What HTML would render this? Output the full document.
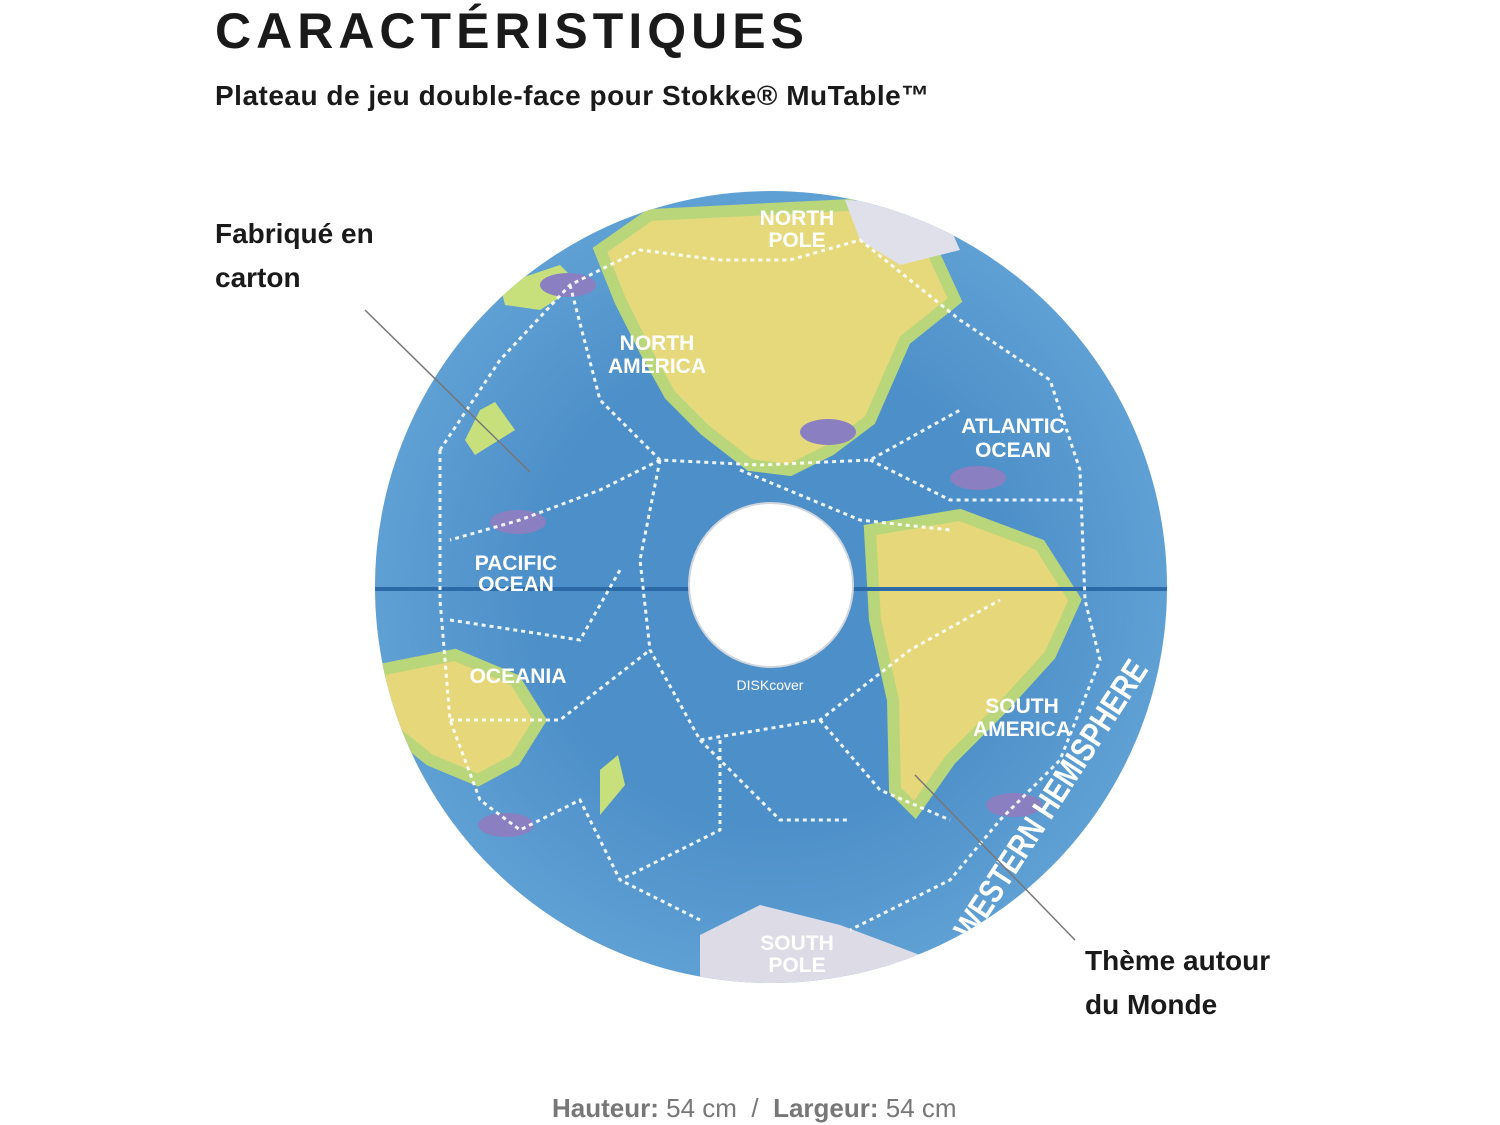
<!DOCTYPE html>
<html><head><meta charset="utf-8"><style>
html,body{margin:0;padding:0;background:#fff;}
body{width:1500px;height:1125px;position:relative;overflow:hidden;font-family:"Liberation Sans",sans-serif;color:#1a1a1a;}
.t{position:absolute;white-space:nowrap;}
</style></head><body>
<div class="t" style="left:215px;top:2px;font-size:50px;font-weight:bold;letter-spacing:5px;">CARACTÉRISTIQUES</div>
<div class="t" style="left:215px;top:80px;font-size:28px;font-weight:bold;letter-spacing:0.5px;">Plateau de jeu double-face pour Stokke® MuTable™</div>
<div class="t" style="left:215px;top:212px;font-size:28px;font-weight:bold;line-height:44px;">Fabriqué en<br>carton</div>
<div class="t" style="left:1085px;top:939px;font-size:28px;font-weight:bold;line-height:44px;">Thème autour<br>du Monde</div>
<div class="t" style="left:552px;top:1093px;font-size:26px;color:#777;"><b>Hauteur:</b> 54 cm &nbsp;/&nbsp; <b>Largeur:</b> 54 cm</div>
<svg width="1500" height="1125" style="position:absolute;left:0;top:0" viewBox="0 0 1500 1125">
<defs>
<radialGradient id="oc" cx="0.5" cy="0.5" r="0.5">
<stop offset="0.6" stop-color="#4d8fc8"/><stop offset="1" stop-color="#5fa0d4"/></radialGradient>
<clipPath id="cc"><circle cx="771" cy="587" r="396"/></clipPath>
</defs>
<circle cx="771" cy="587" r="396" fill="url(#oc)"/>
<g clip-path="url(#cc)">
<path d="M600 250 L650 215 L850 205 L925 235 L955 300 L905 340 L870 420 L830 450 L790 470 L750 465 L705 430 L670 395 L645 350 L620 300 Z" fill="#e6d97c" stroke="#b9d77a" stroke-width="12"/>
<path d="M845 200 L940 205 L960 250 L900 265 L860 240 Z" fill="#dfe0ea"/>
<path d="M870 530 L960 515 L1040 545 L1075 600 L1050 655 L1000 710 L950 760 L915 810 L895 790 L893 700 L875 620 Z" fill="#e6d77a" stroke="#b9d77a" stroke-width="12"/>
<path d="M380 670 L455 655 L515 680 L540 720 L515 760 L478 780 L430 760 L380 720 Z" fill="#e6d77a" stroke="#b9d77a" stroke-width="12"/>
<path d="M500 285 L560 265 L580 285 L540 310 L505 305 Z" fill="#c8e07c"/>
<path d="M480 410 L495 402 L515 430 L475 455 L465 440 Z" fill="#c8e07c"/>
<path d="M600 770 L618 755 L625 785 L600 815 Z" fill="#c8e07c"/>
<path d="M700 935 L760 905 L840 925 L920 955 L920 1000 L700 1000 Z" fill="#dcdbe6"/>
<rect x="370" y="587" width="810" height="4" fill="#2b6aa6"/>
<g fill="#8a7fc0">
<ellipse cx="568" cy="285" rx="28" ry="12"/><ellipse cx="828" cy="432" rx="28" ry="13"/>
<ellipse cx="518" cy="522" rx="28" ry="12"/><ellipse cx="978" cy="478" rx="28" ry="12"/>
<ellipse cx="506" cy="825" rx="28" ry="12"/><ellipse cx="1014" cy="805" rx="28" ry="12"/>
</g>
<g stroke="#fff" stroke-width="3" stroke-dasharray="4 4" fill="none" opacity="0.9">
<path d="M440 450 L500 360 L570 285 L640 250 L720 260 L790 260 L860 240 L960 320 L1050 380 L1080 470 L1085 600 L1100 660 L1060 760 L1000 820 L950 880 L850 930"/>
<path d="M570 285 L600 400 L660 460 L760 465 L870 460 L960 410"/>
<path d="M440 450 L440 600 L450 720 L480 800 L520 830 L580 800 L620 880 L700 920"/>
<path d="M660 460 L600 490 L520 520 L450 540"/>
<path d="M660 460 L640 560 L650 650 L700 740 L820 720 L910 650 L1000 600"/>
<path d="M450 620 L580 640 L620 570"/><path d="M450 720 L560 720 L650 650"/>
<path d="M720 740 L720 830 L620 880"/><path d="M820 720 L880 790 L950 820"/>
<path d="M870 460 L950 500 L1080 500"/><path d="M740 470 L860 520 L950 530"/>
<path d="M700 740 L780 820 L850 820"/>
</g>
<g fill="#fff" font-family="Liberation Sans,sans-serif" font-weight="bold" text-anchor="middle">
<text x="797" y="225" font-size="21">NORTH</text><text x="797" y="247" font-size="21">POLE</text>
<text x="657" y="350" font-size="21">NORTH</text><text x="657" y="373" font-size="21">AMERICA</text>
<text x="1013" y="433" font-size="21">ATLANTIC</text><text x="1013" y="457" font-size="21">OCEAN</text>
<text x="516" y="570" font-size="21">PACIFIC</text><text x="516" y="591" font-size="21">OCEAN</text>
<text x="518" y="683" font-size="21">OCEANIA</text>
<text x="1022" y="713" font-size="21">SOUTH</text><text x="1022" y="736" font-size="21">AMERICA</text>
<text x="797" y="950" font-size="21">SOUTH</text><text x="797" y="972" font-size="21">POLE</text>
<text x="770" y="690" font-size="14" font-weight="normal">DISKcover</text>
</g>
<text transform="translate(972,942) rotate(-57)" fill="#fff" font-family="Liberation Sans,sans-serif" font-weight="bold" font-size="34" textLength="325" lengthAdjust="spacingAndGlyphs">WESTERN HEMISPHERE</text>
</g>
<circle cx="771" cy="585" r="82" fill="#fff" stroke="#d0d6dc" stroke-width="2"/>
<line x1="365" y1="310" x2="530" y2="472" stroke="#777" stroke-width="1.5"/>
<line x1="915" y1="775" x2="1075" y2="940" stroke="#777" stroke-width="1.5"/>
</svg>
</body></html>
